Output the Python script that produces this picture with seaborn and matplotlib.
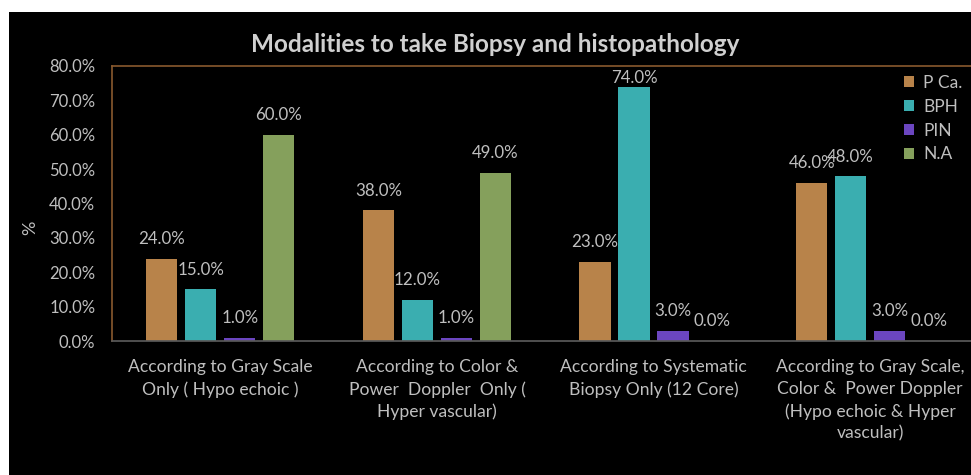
import matplotlib
matplotlib.use("Agg")
import matplotlib.pyplot as plt
import seaborn as sns
import pandas as pd
from matplotlib.patches import Rectangle

categories = [
    "According to Gray Scale\nOnly ( Hypo echoic )",
    "According to Color &\nPower  Doppler  Only (\nHyper vascular)",
    "According to Systematic\nBiopsy Only (12 Core)",
    "According to Gray Scale,\nColor &  Power Doppler\n(Hypo echoic & Hyper\nvascular)",
]
series = ["P Ca.", "BPH", "PIN", "N.A"]
p_ca = [24.0, 38.0, 23.0, 46.0]
bph = [15.0, 12.0, 74.0, 48.0]
pin = [1.0, 1.0, 3.0, 3.0]
na = [60.0, 49.0, 0.0, 0.0]
yticks = [0, 10, 20, 30, 40, 50, 60, 70, 80]
colors = ["#b8834a", "#3aaeb0", "#6b46c0", "#85a05c"]

values = {"P Ca.": p_ca, "BPH": bph, "PIN": pin, "N.A": na}
rows = []
for s in series:
    for c, v in zip(categories, values[s]):
        rows.append({"cat": c, "series": s, "val": v})
df = pd.DataFrame(rows)

sns.set_theme(style="dark")
plt.rcParams['font.family'] = ['Lato', 'DejaVu Sans']
txt = "#bfbfbf"

fig = plt.figure(figsize=(9.71, 4.75), dpi=100, facecolor="white")
fig.patches.append(Rectangle((9/971, 0), 1, (475-12)/475, transform=fig.transFigure,
                             facecolor="black", edgecolor="none", zorder=-10))
ax_h_px = 341 - 66
ax = fig.add_axes([112/971, 1-341/475, 866.5/971, ax_h_px/475])
ax.set_facecolor("black")

sns.barplot(data=df, x="cat", y="val", hue="series", palette=colors,
            width=0.72, gap=0.2, ax=ax, legend=False, saturation=1,
            edgecolor="none", linewidth=0)

ymax = 80
px_per_unit = ax_h_px / ymax
for cont in ax.containers:
    for b in cont:
        h = b.get_height()
        off_px = min(11.5, (ymax - h) * px_per_unit - 20)
        ax.annotate(f"{h:.1f}%", (b.get_x() + b.get_width() / 2, h),
                    xytext=(0, off_px * 72 / 100), textcoords="offset points",
                    ha="center", va="bottom", color=txt, fontsize=12.2)

ax.set_ylim(0, ymax)
ax.set_yticks(yticks)
ax.set_yticklabels([f"{t:.1f}%" for t in yticks])
ax.set_xlim(-0.5, 3.5)
ax.tick_params(axis="y", length=0, pad=12, labelcolor=txt, labelsize=12)
ax.tick_params(axis="x", length=0, pad=13, labelcolor=txt, labelsize=12.6)
for lab in ax.get_xticklabels():
    lab.set_linespacing(1.45)
    lab.set_verticalalignment("top")
ax.set_xlabel("")
ax.set_ylabel("")
ax.grid(False)

for side in ["left", "top"]:
    ax.spines[side].set_visible(True)
    ax.spines[side].set_color("#8a5a2e")
    ax.spines[side].set_linewidth(1.2)
ax.spines["bottom"].set_visible(True)
ax.spines["bottom"].set_color("#595959")
ax.spines["right"].set_visible(False)

fig.text(30/971, 1-228/475, "%", rotation=90, color=txt, fontsize=13,
         ha="center", va="center")
fig.text(495/971, 1-45/475, "Modalities to take Biopsy and histopathology",
         color="#d0d0d0", fontsize=17.5, fontweight="bold", ha="center", va="center")

handles = [Rectangle((0, 0), 1, 1, facecolor=c, edgecolor="none") for c in colors]
leg = fig.legend(handles, series, loc="upper left", bbox_to_anchor=(904/971, 1-75/475),
                 frameon=False, handlelength=0.6, handleheight=0.6, handletextpad=0.5,
                 labelspacing=0.45, fontsize=12.5, labelcolor=txt, borderaxespad=0,
                 borderpad=0)

fig.savefig("out.png", dpi=100, facecolor=fig.get_facecolor())
